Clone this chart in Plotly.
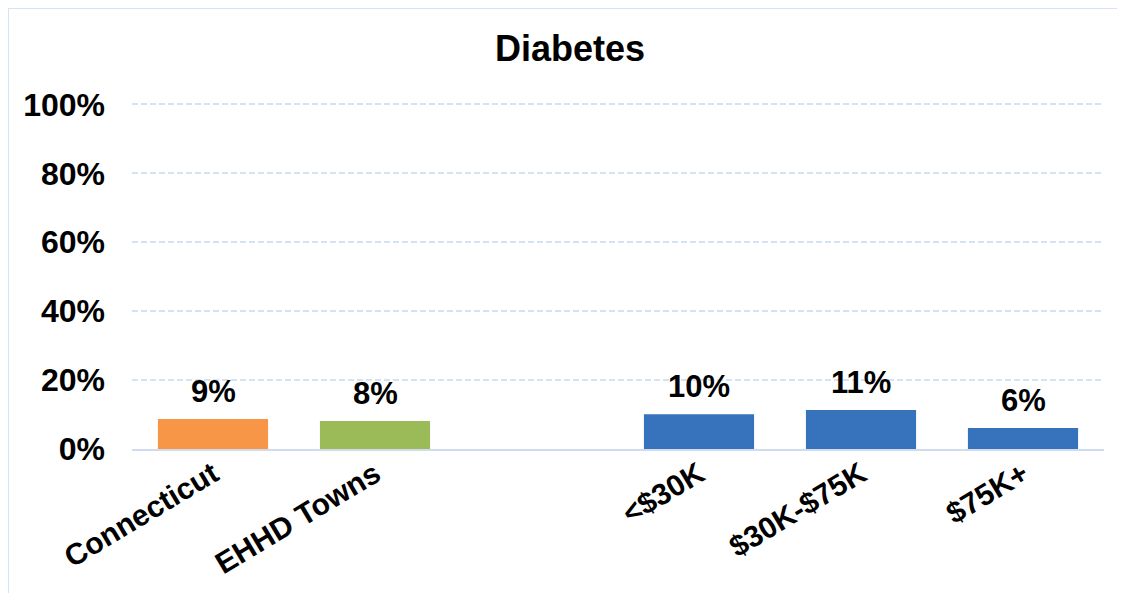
import plotly.graph_objects as go

title_text = "Diabetes"
categories = ["Connecticut", "EHHD Towns", " ", "<$30K", "$30K-$75K", "$75K+"]
values = [0.087, 0.081, None, 0.101, 0.113, 0.061]
bar_colors = ["#F79646", "#9BBB59", "#FFFFFF", "#3772BC", "#3772BC", "#3772BC"]
y_tick_vals = [0, 0.2, 0.4, 0.6, 0.8, 1.0]
y_tick_text = ["0%", "20%", "40%", "60%", "80%", "100%"]

FONT = "Liberation Sans, Arial, sans-serif"
W, H = 1109, 585
ml, mr, mt, mb = 124, 13, 95, 144
pw, ph = W - ml - mr, H - mt - mb

fig = go.Figure()
fig.add_trace(go.Bar(
    x=categories, y=values,
    marker=dict(color=bar_colors, line=dict(width=0)),
    width=0.68, hoverinfo="skip",
))

for c, v in zip(categories, values):
    if v is None:
        continue
    fig.add_annotation(
        x=c, y=v, text=f"{round(v * 100):.0f}%", showarrow=False,
        yanchor="bottom", yshift=8,
        font=dict(family=FONT, size=31, color="#000000", weight="bold"),
    )

grid_col = "#D6E2F3"
fig.update_layout(
    width=W, height=H,
    margin=dict(l=ml, r=mr, t=mt, b=mb),
    paper_bgcolor="white", plot_bgcolor="white",
    showlegend=False,
    title=dict(
        text=title_text, x=562 / W, xanchor="center", xref="container",
        y=1 - 40 / H, yanchor="middle", yref="container",
        font=dict(family=FONT, size=36, color="#000000", weight="bold"),
    ),
    bargap=0.32,
    xaxis=dict(
        type="category", categoryorder="array", categoryarray=categories,
        showgrid=False, showline=True, linecolor="#D0DCEE", linewidth=2,
        ticks="", tickangle=-31,
        tickfont=dict(family=FONT, size=30, color="#000000", weight="bold"),
        ticklabelstandoff=-6,
    ),
    yaxis=dict(
        range=[0, 1.004], tickvals=y_tick_vals, ticktext=y_tick_text,
        showgrid=True, gridcolor=grid_col, gridwidth=1.5, griddash="6px,3px",
        zeroline=False, showline=False, ticks="",
        tickfont=dict(family=FONT, size=32, color="#000000", weight="bold"),
        ticklabelstandoff=26,
    ),
)

# outer chart frame: left and top edges (right/bottom lie outside the view)
frame = dict(color="#D6E3F5", width=2)
x_left = (0 - ml) / pw
x_right = (W - ml) / pw
y_top = (H - mb) / ph
y_bot = (H - mb - H) / ph
fig.add_shape(type="line", xref="paper", yref="paper",
              x0=x_left, x1=x_left, y0=y_bot, y1=y_top, line=frame, layer="below")
fig.add_shape(type="line", xref="paper", yref="paper",
              x0=x_left, x1=x_right, y0=y_top, y1=y_top, line=frame, layer="below")

fig.write_html("out.html")
